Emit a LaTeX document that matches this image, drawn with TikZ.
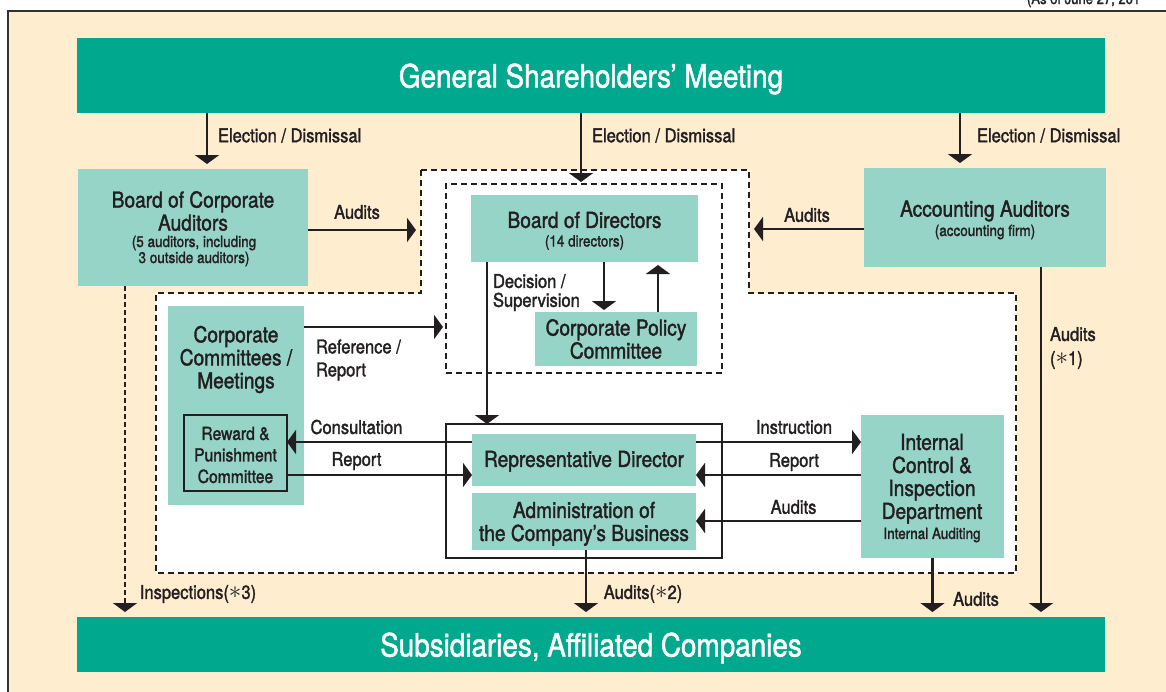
\documentclass[tikz,border=0pt]{standalone}
\usepackage{fontspec}
\setmainfont{TeX Gyre Heros}[FakeStretch=0.87,FakeBold=1.6]
\usetikzlibrary{arrows.meta}
\definecolor{beige}{HTML}{FFEDCF}
\definecolor{dgreen}{HTML}{00A88E}
\definecolor{lteal}{HTML}{96D4C8}
\definecolor{ink}{HTML}{231F20}
\newcommand{\bigast}{\raisebox{0pt}[0pt][0pt]{\scalebox{1.45}{$\ast$}}}
\begin{document}
\begin{tikzpicture}[x=1pt,y=-1pt,
  every node/.style={text=ink,inner sep=0pt,outer sep=0pt},
  box/.style={fill=lteal,draw=none},
  bar/.style={fill=dgreen,draw=none},
  ttl/.style={font=\fontsize{22}{23}\selectfont,align=center},
  subt/.style={font=\fontsize{15.5}{16}\selectfont,align=center},
  lbl/.style={font=\fontsize{19}{23}\selectfont,align=left},
  arr/.style={draw=ink,line width=2.2pt,-{Triangle[width=24pt,length=9pt]}},
  dashln/.style={draw=ink,line width=2.5pt,dash pattern=on 6pt off 4pt},
  dotln/.style={draw=ink,line width=2pt,dash pattern=on 4.5pt off 3.5pt},
  ]
\useasboundingbox (0,0) rectangle (1166,691);
% outer frame
\draw[fill=beige,draw=black!80,line width=2pt] (8,11) rectangle (1185,705);
\node[anchor=base west,font=\fontsize{15}{16}\selectfont] (asof) at (1027,4) {(As of June 27, 201};

% top and bottom bars
\node[bar,minimum width=1028pt,minimum height=75pt] (gsm) at (591,75.5) {};
\node[text=white,font=\fontsize{32}{34}\selectfont] (gsmt) at (591,79) {General Shareholders’ Meeting};
\node[bar,minimum width=1028pt,minimum height=55pt] (sub) at (591,644.5) {};
\node[text=white,font=\fontsize{32}{34}\selectfont] (subtx) at (591,648) {Subsidiaries, Affiliated Companies};

% outer dashed region
\draw[dashln,fill=white] (421,170) -- (749,170) -- (749,293) -- (1016,293) -- (1016,573) -- (156,573) -- (156,293) -- (421,293) -- cycle;
\coordinate (odl) at (421,0);
\coordinate (odr) at (749,0);
% inner dashed
\node[dashln,minimum width=276pt,minimum height=189pt] (innerdash) at (584,278.5) {};

% boxes
\node[box,minimum width=230pt,minimum height=117pt] (bca) at (193,227.5) {};
\node[ttl] (bcat) at (193,211) {Board of Corporate\\Auditors};
\node[subt] (bcas) at (194,251) {(5 auditors, including\\3 outside auditors)};

\node[box,minimum width=227pt,minimum height=67pt] (bod) at (584.5,228.5) {};
\node[ttl] (bodt) at (584.5,220) {Board of Directors};
\node[subt] (bods) at (584.5,242.5) {(14 directors)};

\node[box,minimum width=162pt,minimum height=54pt] (cpc) at (616,339) {};
\node[ttl] (cpct) at (616,339) {Corporate Policy\\Committee};

\node[box,minimum width=242pt,minimum height=99pt] (acc) at (985,217.5) {};
\node[ttl] (acct) at (985,211) {Accounting Auditors};
\node[subt] (accs) at (985,232) {(accounting firm)};

\node[box,minimum width=136pt,minimum height=199pt] (ccm) at (236,405.5) {};
\node[ttl] (ccmt) at (236,359.5) {Corporate\\Committees /\\Meetings};
\node[box,draw=ink,line width=1.5pt,minimum width=103pt,minimum height=76pt] (rpc) at (235.5,453) {};
\node[font=\fontsize{18}{21.5}\selectfont,align=center] (rpct) at (235.5,455) {Reward \&\\Punishment\\Committee};

\node[draw=ink,line width=2.2pt,minimum width=276pt,minimum height=134pt] (repframe) at (584,491) {};
\node[box,minimum width=224pt,minimum height=52pt] (rep) at (584,460) {};
\node[ttl] (rept) at (584,461.3) {Representative Director};
\node[box,minimum width=224pt,minimum height=57pt] (adm) at (584,521.5) {};
\node[ttl] (admt) at (584,523.8) {Administration of\\the Company’s Business};

\node[box,minimum width=143pt,minimum height=143pt] (icd) at (932.5,486.5) {};
\node[ttl] (icdt) at (932,478.8) {Internal\\Control \&\\Inspection\\Department};
\node[subt] (icds) at (932,535) {Internal Auditing};

% election / dismissal
\draw[arr,shorten >=5pt] ([xshift=14pt]bca.north |- gsm.south) -- ([xshift=14pt]bca.north);
\draw[arr,shorten >=2pt] ([xshift=-3pt]innerdash.north |- gsm.south) -- ([xshift=-3pt]innerdash.north);
\draw[arr,shorten >=5pt] ([xshift=-25pt]acc.north |- gsm.south) -- ([xshift=-25pt]acc.north);
\node[lbl,anchor=west] (el1) at (218,135.5) {Election / Dismissal};
\node[lbl,anchor=west] (el2) at (592,135.5) {Election / Dismissal};
\node[lbl,anchor=west] (el3) at (977,135.5) {Election / Dismissal};

% audits to outer dashed region
\draw[arr,shorten >=5pt] ([yshift=-2.5pt]bca.east) -- ([yshift=-2.5pt]bca.east -| odl);
\node[lbl] (au1) at (357,212) {Audits};
\draw[arr,shorten >=5pt] ([yshift=-11.5pt]acc.west) -- ([yshift=-11.5pt]acc.west -| odr);
\node[lbl] (au2) at (807,215) {Audits};

% board internal
\draw[arr,shorten >=2pt] ([xshift=19.5pt]bod.south) -- ([xshift=19.5pt]bod.south |- cpc.north);
\draw[arr,shorten >=3pt] ([xshift=42pt]cpc.north) -- ([xshift=42pt]cpc.north |- bod.south);
\draw[arr] ([xshift=-97.5pt]bod.south) -- ([xshift=-97.5pt]bod.south |- repframe.north);
\node[font=\fontsize{19}{19}\selectfont,align=left,anchor=west] (decs) at (493,292.5) {Decision /\\Supervision};

% corporate committees
\draw[arr,shorten >=3pt] ([yshift=78.5pt]ccm.east) -- ([yshift=78.5pt]ccm.east -| innerdash.west);
\node[lbl,anchor=west] (refr) at (316,360) {Reference /\\Report};
\draw[arr] ([yshift=18pt]rep.west) -- ([yshift=18pt]rep.west -| rpc.east);
\node[lbl] (cons) at (356.5,427) {Consultation};
\draw[arr] ([yshift=-22pt]rpc.east) -- ([yshift=-22pt]rpc.east -| rep.west);
\node[lbl] (rep1) at (356.5,461) {Report};

% internal control
\draw[arr] ([yshift=18pt]rep.east) -- ([yshift=18pt]rep.east -| icd.west);
\node[lbl] (instr) at (794,427) {Instruction};
\draw[arr] ([yshift=11.5pt]icd.west) -- ([yshift=11.5pt]icd.west -| rep.east);
\node[lbl] (rep2) at (794,462) {Report};
\draw[arr] ([yshift=-34.5pt]icd.west) -- ([yshift=-34.5pt]icd.west -| adm.east);
\node[lbl] (au3) at (793.5,507) {Audits};

% down to subsidiaries
\draw[dotln,-{Triangle[width=24pt,length=9pt]},shorten >=5pt] ([xshift=-68pt]bca.south) -- ([xshift=-68pt]bca.south |- sub.north);
\node[lbl] (insp) at (198,594) {Inspections(\bigast3)};
\draw[arr,shorten >=5pt] ([xshift=2pt]adm.south) -- ([xshift=2pt]adm.south |- sub.north);
\node[lbl] (au4) at (643,594) {Audits(\bigast2)};
\draw[arr,shorten >=5pt] (icd.south) -- (icd.south |- sub.north);
\node[lbl] (au5) at (976,599) {Audits};
\draw[arr,shorten >=5pt] ([xshift=56pt]acc.south) -- ([xshift=56pt]acc.south |- sub.north);
\node[font=\fontsize{19}{24}\selectfont,align=left,anchor=west] (au6) at (1050,348) {Audits\\(\bigast1)};
\end{tikzpicture}
\end{document}
